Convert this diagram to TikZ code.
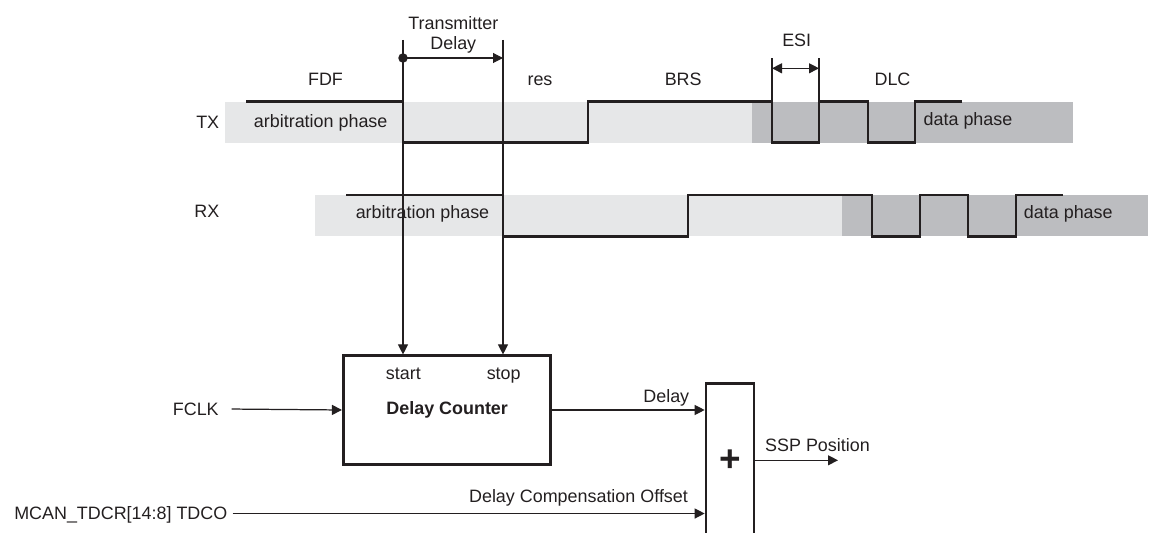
\documentclass[tikz,border=0pt]{standalone}
\usepackage{fontspec}
\setmainfont{Liberation Sans}
\usetikzlibrary{arrows.meta,positioning}
\definecolor{phaselight}{HTML}{E6E7E8}
\definecolor{phasedark}{HTML}{BCBDC0}
\definecolor{ink}{HTML}{231F20}

\begin{document}
\begin{tikzpicture}[x=0.02cm, y=-0.02cm, font=\fontsize{10.2}{11.3}\selectfont, text=ink,
        lbl/.style={anchor=base, inner sep=0pt},
        wave/.style={draw=ink, line width=1.5pt, line join=miter},
        marker/.style={draw=ink, line width=0.6pt},
        tip/.style={-{Triangle[length=2mm, width=2mm]}},
        conn/.style={draw=ink, line width=0.7pt, tip},
        block/.style={draw=ink, line width=1.5pt, inner sep=0pt}]
        \useasboundingbox (0,0) rectangle (1150,533);
        % phase bands
        \fill[phaselight] (225,101.7) rectangle (752,143);
        \fill[phasedark] (752,101.7) rectangle (1073,143);
        \fill[phaselight] (315,195) rectangle (842,236.5);
        \fill[phasedark] (842,195) rectangle (1148,236.5);
        % signals
        \draw[wave] (246,101.7) -- (403,101.7) -- (403,142.7) -- (588,142.7) -- (588,101.7)
        -- (772,101.7) -- (772,142.7) -- (819,142.7) -- (819,101.7) -- (868,101.7)
        -- (868,142.7) -- (915,142.7) -- (915,101.7) -- (962,101.7);
        \draw[wave] (346,195) -- (503,195) -- (503,236.5) -- (688,236.5) -- (688,195)
        -- (872,195) -- (872,236.5) -- (920,236.5) -- (920,195) -- (968,195)
        -- (968,236.5) -- (1016,236.5) -- (1016,195) -- (1063,195);
        \node[lbl] (tx) at (207.7,128.3) {TX};
        \node[lbl] (rx) at (206.8,218) {RX};
        \node[lbl] at (320.7,127.5) {arbitration phase};
        \node[lbl] at (422.5,219) {arbitration phase};
        \node[lbl] at (968,126) {data phase};
        \node[lbl] at (1068.3,219) {data phase};
        % field names
        \node[lbl] (fdf) at (325.5,86) {FDF};
        \node[lbl] (res) at (540,86) {res};
        \node[lbl] (brs) at (683.2,86) {BRS};
        \node[lbl] (dlc) at (892.5,86) {DLC};
        \node[lbl] (esi) at (796.7,46.7) {ESI};
        \node[lbl, align=center] (txdelay) at (453.3,49.3) {Transmitter\\Delay};
        % markers
        \coordinate (starttop) at (403,40);
        \coordinate (stoptop) at (503,40);
        \coordinate (dstart) at (403,58);
        \coordinate (dstop) at (503,58);
        \coordinate (esia) at (772,58.3);
        \coordinate (esib) at (819,58.3);
        \fill[ink] (dstart) circle (0.095cm);
        \draw[marker, tip] (dstart) -- (dstop);
        \draw[marker] (esia) -- ++(0,43.4);
        \draw[marker] (esib) -- ++(0,43.4);
        \draw[marker, {Triangle[length=2mm, width=2mm]}-{Triangle[length=2mm, width=2mm]}]
        ([yshift=-0.2cm]esia) -- ([yshift=-0.2cm]esib);
        % blocks
        \node[block, minimum width=4.15cm, minimum height=2.17cm] (counter) at (447,410) {};
        \node[lbl] at (403.3,380) {start};
        \node[lbl] at (503.7,380) {stop};
        \node[lbl, font=\fontsize{10.2}{11.3}\selectfont\bfseries] at (447.2,415) {Delay Counter};
        \node[block, minimum width=0.96cm, minimum height=3.08cm,
        font=\fontsize{21}{21}\selectfont\bfseries] (adder) at (730,460.3) {+};
        \draw[marker, tip] (starttop) -- (starttop |- counter.north);
        \draw[marker, tip] (stoptop) -- (stoptop |- counter.north);
        % inputs and output
        \node[lbl, text depth=0pt] (fclk) at (195.8,415.3) {FCLK};
        \node[lbl, text depth=0pt] (mcan) at (120.8,520) {MCAN\_TDCR[14:8] TDCO};
        \coordinate (ssp) at (838,460.3);
        \draw[conn] ([xshift=0.25cm]fclk.east) -- (counter.west);
        \draw[conn] (counter.east) -- (counter.east -| adder.west);
        \node[lbl] at (666.3,402.7) {Delay};
        \draw[conn] ([xshift=0.1cm]mcan.east) -- (mcan.east -| adder.west);
        \node[lbl] at (578.5,502.3) {Delay Compensation Offset};
        \draw[conn] (adder.east) -- (ssp);
        \node[lbl] at (817.5,451.7) {SSP Position};
    \end{tikzpicture}
\end{document}
